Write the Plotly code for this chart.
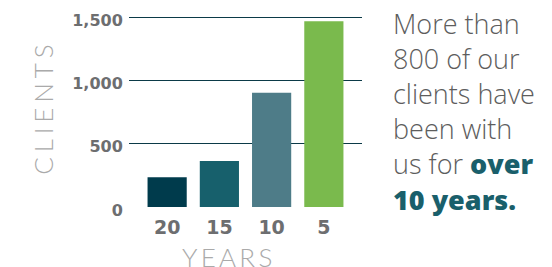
import plotly.graph_objects as go

years = ["20", "15", "10", "5"]
clients = [235, 365, 905, 1470]
bar_colors = ["#003b4c", "#17606c", "#4e7c88", "#7aba4d"]
y_ticks = [0, 500, 1000, 1500]
y_tick_text = ["0", "500", "1,000", "1,500"]

W, H = 552, 267
OFF = 8  # page body margin offset
YMAX = 1520
# target page pixels: plot x 129..362, value 0 at y=207, 1500 at y=18
x0, x1 = 129 - OFF, 362 - OFF
y0, y1500 = 207 - OFF, 18 - OFF
ph = (y0 - y1500) * YMAX / 1500
L, R = x0, W - x1
B = H - y0
T = H - B - ph
pw = x1 - x0

def px_x(x):
    return (x - OFF - L) / pw

def px_y(y):
    return (H - B - (y - OFF)) / ph

fig = go.Figure(go.Bar(
    x=years, y=clients, marker=dict(color=bar_colors, line=dict(width=0)),
    width=0.75, hoverinfo="skip"))

fig.update_layout(
    width=W, height=H, margin=dict(l=L, r=R, t=T, b=B, pad=0, autoexpand=False),
    paper_bgcolor="white", plot_bgcolor="white", showlegend=False,
    xaxis=dict(range=[-0.73, 3.73], showgrid=False, showline=False, zeroline=False,
               automargin=False,
               ticks="outside", ticklen=3, tickcolor="rgba(0,0,0,0)",
               tickfont=dict(family="DejaVu Sans", size=19, color="#6d6e70", weight="bold")),
    yaxis=dict(range=[0, YMAX], tickvals=y_ticks, ticktext=y_tick_text,
               automargin=False, ticklabeloverflow="allow",
               showgrid=True, gridcolor="#0b3a47", gridwidth=1,
               zeroline=True, zerolinecolor="rgba(0,0,0,0)", showline=False,
               ticks="outside", ticklen=2, tickcolor="rgba(0,0,0,0)",
               ticklabelshift=3,
               tickfont=dict(family="DejaVu Sans", size=16, color="#6d6e70", weight="bold")),
)

thin = "\u2009"
fig.add_annotation(xref="paper", yref="paper", x=px_x(227), y=px_y(257),
                   xanchor="center", yanchor="middle",
                   text=thin.join("YEARS"), showarrow=False,
                   font=dict(family="Lato", size=26, color="#aaaaaa", weight=300))
fig.add_annotation(xref="paper", yref="paper", x=px_x(43), y=px_y(110),
                   xanchor="center", yanchor="middle",
                   text="\u2009\u200a".join("CLIENTS"), showarrow=False, textangle=-90,
                   font=dict(family="Lato", size=26, color="#aaaaaa", weight=300))

fig.add_annotation(
    xref="paper", yref="paper", x=px_x(391), y=px_y(4), xanchor="left", yanchor="top",
    align="left", showarrow=False,
    text=("More than<br>800 of our<br>clients have<br>been with<br>us for "
          "<span style='font-weight:800;color:#1a5f6b'>over</span><br>"
          "<span style='font-weight:800;color:#1a5f6b'>10 years.</span>"),
    font=dict(family="Open Sans", size=27, color="#5d5d5d", weight=300))

fig.write_html("out.html")
